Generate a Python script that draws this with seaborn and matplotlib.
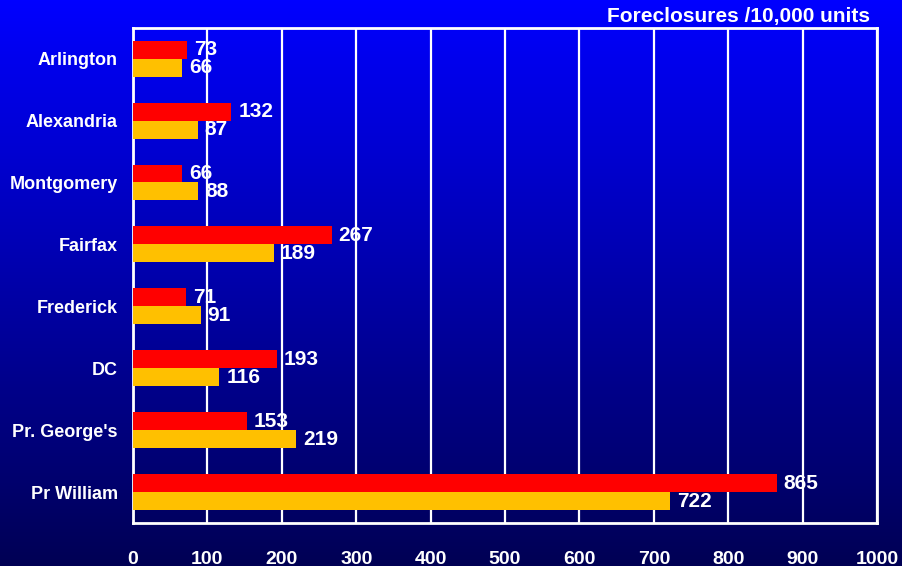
import numpy as np
import pandas as pd
import matplotlib
matplotlib.use("Agg")
import matplotlib.pyplot as plt
import seaborn as sns

# data
areas = ['Arlington', 'Alexandria', 'Montgomery', 'Fairfax', 'Frederick',
         'DC', "Pr. George's", 'Pr William']
red_vals = [73, 132, 66, 267, 71, 193, 153, 865]
yellow_vals = [66, 87, 88, 189, 91, 116, 219, 722]
series = ['Series 1', 'Series 2']
xticks = [0, 100, 200, 300, 400, 500, 600, 700, 800, 900, 1000]

df = pd.DataFrame({
    'area': areas * 2,
    'value': red_vals + yellow_vals,
    'series': [series[0]] * len(areas) + [series[1]] * len(areas),
})

sns.set_style('white')
plt.rcParams['font.family'] = ['Liberation Sans', 'DejaVu Sans']
plt.rcParams['font.weight'] = 'bold'

fig = plt.figure(figsize=(9.03, 5.66), dpi=100)

# gradient background
bg = fig.add_axes([0, 0, 1, 1], zorder=-10)
grad = np.linspace(1.0, 0.33, 256).reshape(-1, 1)
img = np.zeros((256, 1, 3))
img[:, 0, 2] = grad[:, 0]
bg.imshow(img, aspect='auto', extent=[0, 1, 0, 1], interpolation='bilinear')
bg.axis('off')

ax = fig.add_axes([0.1473, 0.076, 0.824, 0.875])
ax.patch.set_alpha(0)

sns.barplot(data=df, y='area', x='value', hue='series', orient='h',
            palette=['#FF0000', '#FFC000'], width=0.58, saturation=1,
            ax=ax, legend=False, zorder=3, linewidth=0)

for cont in ax.containers:
    ax.bar_label(cont, padding=5, color='white', fontsize=15,
                 fontweight='bold')

ax.set_xlim(0, 1000)
ax.set_ylim(7.5, -0.5)
ax.set_xticks(xticks)
ax.set_xticklabels([str(t) for t in xticks])
ax.set_xlabel('')
ax.set_ylabel('')
ax.grid(axis='x', color='white', linewidth=1.6, zorder=0)
ax.set_axisbelow(True)
for s in ax.spines.values():
    s.set_color('white')
    s.set_linewidth(2)
ax.tick_params(axis='x', colors='white', direction='out', length=8, width=1.6,
               pad=12, labelsize=14)
ax.tick_params(axis='y', colors='white', length=0, pad=11, labelsize=13)
for lbl in ax.get_xticklabels() + ax.get_yticklabels():
    lbl.set_fontweight('bold')

fig.text(0.963, 0.971, 'Foreclosures /10,000 units', color='white',
         fontsize=15, fontweight='bold', ha='right', va='center')

fig.savefig('out.png', dpi=100)
